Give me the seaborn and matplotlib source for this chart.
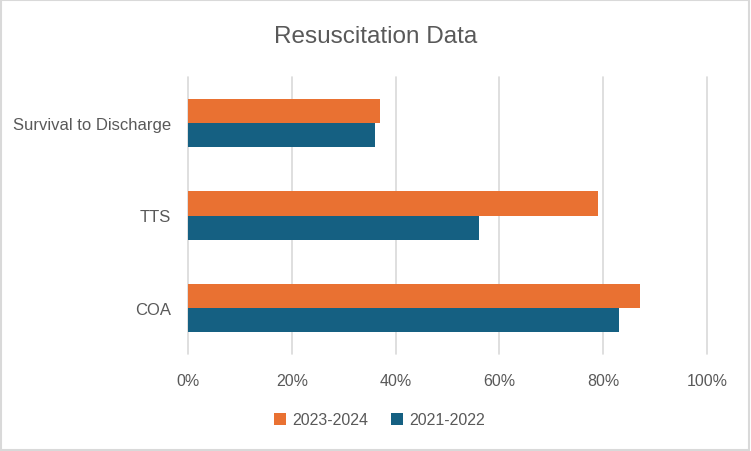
import pandas as pd
import matplotlib.pyplot as plt
import seaborn as sns
from matplotlib.patches import Rectangle
from matplotlib.ticker import PercentFormatter

categories = ['Survival to Discharge', 'TTS', 'COA']
series = ['2023-2024', '2021-2022']
vals_2324 = [37, 79, 87]
vals_2122 = [36, 56, 83]
colors = ['#E97132', '#156082']

df = pd.DataFrame({
    'category': categories * 2,
    'period': [series[0]] * 3 + [series[1]] * 3,
    'value': vals_2324 + vals_2122,
})

sns.set_style('white')
plt.rcParams['font.family'] = ['Liberation Sans', 'DejaVu Sans']

fig = plt.figure(figsize=(7.51, 4.52), dpi=100)
ax = fig.add_axes([188 / 751, 1 - 355 / 452, (707 - 188) / 751, (355 - 78) / 452])

sns.barplot(data=df, y='category', x='value', hue='period', order=categories,
            hue_order=series, palette=colors, orient='h', width=0.52,
            saturation=1, linewidth=0, ax=ax)

ax.set_xlim(0, 100)
ax.set_xticks(range(0, 101, 20))
ax.xaxis.set_major_formatter(PercentFormatter(decimals=0))
ax.grid(axis='x', color='#D9D9D9', linewidth=1.2)
for gl in ax.get_xgridlines():
    gl.set_clip_on(False)
ax.set_axisbelow(True)
for s in ax.spines.values():
    s.set_visible(False)
ax.set_xlabel('')
ax.set_ylabel('')
ax.tick_params(axis='x', length=0, labelsize=11.5, labelcolor='#595959', pad=14)
ax.tick_params(axis='y', length=0, labelsize=12, labelcolor='#595959', pad=12)

handles, labels = ax.get_legend_handles_labels()
ax.legend_.remove()
fig.legend(handles, labels, loc='center', bbox_to_anchor=(0.505, 1 - 421 / 452),
           ncol=2, frameon=False, fontsize=11.5, handlelength=0.75,
           handleheight=0.75, columnspacing=1.4, handletextpad=0.4,
           labelcolor='#595959')

fig.text(0.5, 1 - 37 / 452, 'Resuscitation Data', ha='center', va='center',
         fontsize=17.5, color='#595959')

fig.patches.append(Rectangle((0.001, 0.002), 0.997, 0.996, transform=fig.transFigure,
                             fill=False, edgecolor='#D9D9D9', linewidth=1.5))

fig.savefig('out.png', dpi=100)
